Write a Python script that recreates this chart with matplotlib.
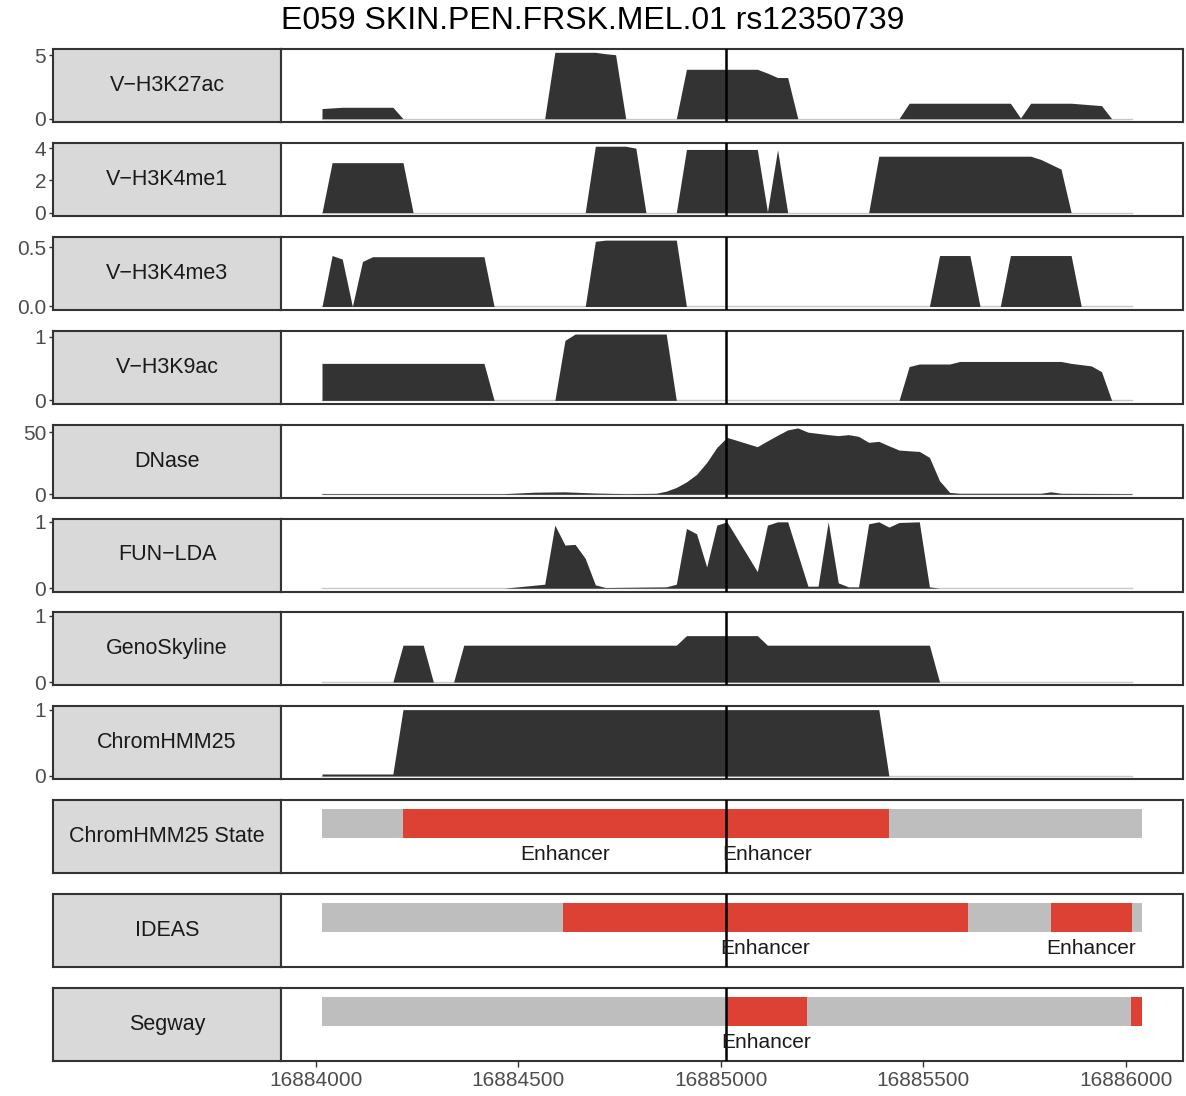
import matplotlib
matplotlib.use("Agg")
import matplotlib.pyplot as plt

plt.rcParams.update({
    "font.family": ["Liberation Sans", "DejaVu Sans"],
    "axes.linewidth": 1.5,
    "axes.edgecolor": "#333333",
})

TITLE = "E059 SKIN.PEN.FRSK.MEL.01 rs12350739"
BASE = 16884000          # positions below are offsets from this
SNP_POS = 16885012
XTICKS = [16884000, 16884500, 16885000, 16885500, 16886000]

# ---- signal tracks: vertices (offset bp, value) ----
H3K27AC_POS = [15, 65, 190, 215, 565, 590, 690, 715, 740, 765, 890, 915, 1090, 1115, 1140, 1165, 1190,
               1440, 1465, 1715, 1740, 1765, 1865, 1940, 1965, 2015]
H3K27AC_VAL = [0.8, 0.9, 0.9, 0, 0, 5.24, 5.24, 5.13, 5.05, 0, 0, 3.9, 3.9, 3.6, 3.25, 3.25, 0,
               0, 1.22, 1.22, 0.05, 1.22, 1.22, 1.03, 0, 0]

H3K4ME1_POS = [15, 40, 215, 240, 665, 690, 765, 790, 815, 890, 915, 1090, 1115, 1140, 1165,
               1365, 1390, 1765, 1790, 1815, 1840, 1865, 2015]
H3K4ME1_VAL = [0, 3.1, 3.1, 0, 0, 4.12, 4.12, 4.0, 0, 0, 3.92, 3.92, 0.05, 3.9, 0,
               0, 3.5, 3.5, 3.3, 3.0, 2.7, 0, 0]

H3K4ME3_POS = [15, 40, 65, 90, 115, 140, 415, 440, 665, 690, 715, 890, 915,
               1515, 1540, 1615, 1640, 1690, 1715, 1865, 1890, 2015]
H3K4ME3_VAL = [0, 0.43, 0.40, 0, 0.38, 0.42, 0.42, 0, 0, 0.55, 0.56, 0.56, 0,
               0, 0.43, 0.43, 0, 0, 0.43, 0.43, 0, 0]

H3K9AC_POS = [15, 415, 440, 590, 615, 640, 865, 890, 1440, 1465, 1490, 1565, 1590, 1840, 1865,
              1915, 1940, 1965, 2015]
H3K9AC_VAL = [0.58, 0.58, 0, 0, 0.94, 1.04, 1.04, 0, 0, 0.53, 0.57, 0.57, 0.61, 0.61, 0.58,
              0.54, 0.45, 0, 0]

DNASE_POS = [15, 465, 540, 615, 690, 765, 840, 865, 890, 915, 940, 965, 990, 1015, 1040, 1065,
             1090, 1115, 1140, 1165, 1190, 1215, 1240, 1265, 1290, 1315, 1340, 1365, 1390, 1415,
             1440, 1465, 1490, 1515, 1540, 1565, 1590, 1790, 1815, 1840, 2015]
DNASE_VAL = [0.5, 0.5, 1.7, 2.0, 1.0, 0.5, 0.8, 2.5, 5.5, 10, 16, 25.6, 37.7, 45.8, 43.3, 40.8,
             38.3, 43, 47.5, 51.8, 53.4, 50, 49, 48, 47.2, 48, 46.6, 41.8, 42.6, 39,
             35.6, 35, 34.5, 29.7, 10.9, 1.5, 0.8, 0.8, 2.0, 0.8, 0.5]

FUNLDA_POS = [15, 465, 565, 590, 615, 640, 665, 690, 715, 865, 890, 915, 940, 965, 990, 1015,
              1090, 1115, 1140, 1165, 1215, 1240, 1265, 1290, 1315, 1340, 1365, 1390, 1415,
              1440, 1490, 1515, 1540, 2015]
FUNLDA_VAL = [0, 0, 0.06, 0.95, 0.65, 0.66, 0.45, 0.05, 0.01, 0.02, 0.06, 0.90, 0.82, 0.32, 0.95, 1.0,
              0.25, 0.95, 1.0, 1.0, 0.03, 0.03, 1.0, 0.08, 0.02, 0.02, 0.97, 1.0, 0.92,
              0.99, 1.0, 0.02, 0, 0]

GENOSKY_POS = [15, 190, 215, 265, 290, 340, 365, 890, 915, 1090, 1115, 1515, 1540, 2015]
GENOSKY_VAL = [0, 0, 0.556, 0.556, 0, 0, 0.556, 0.556, 0.70, 0.70, 0.556, 0.556, 0, 0]

CHMM25_POS = [15, 190, 215, 1390, 1415, 2015]
CHMM25_VAL = [0.03, 0.03, 1.0, 1.0, 0, 0]

# ---- state tracks: segments ----
CHMM_START = [15, 215, 1015, 1215, 1415]
CHMM_END = [215, 1015, 1215, 1415, 2040]
CHMM_STATE = ["Other", "Enhancer", "Enhancer", "Enhancer", "Other"]
CHMM_LABEL = ["", "Enhancer", "Enhancer", "", ""]

IDEAS_START = [15, 610, 1610, 1815, 2015]
IDEAS_END = [610, 1610, 1815, 2015, 2040]
IDEAS_STATE = ["Other", "Enhancer", "Other", "Enhancer", "Other"]
IDEAS_LABEL = ["", "Enhancer", "", "Enhancer", ""]

SEGWAY_START = [15, 1012, 1212, 2012]
SEGWAY_END = [1012, 1212, 2012, 2040]
SEGWAY_STATE = ["Other", "Enhancer", "Other", "Enhancer"]
SEGWAY_LABEL = ["", "Enhancer", "", ""]

SIGNALS = [
    ("V\u2212H3K27ac", H3K27AC_POS, H3K27AC_VAL, [0, 5], ["0", "5"], False),
    ("V\u2212H3K4me1", H3K4ME1_POS, H3K4ME1_VAL, [0, 2, 4], ["0", "2", "4"], False),
    ("V\u2212H3K4me3", H3K4ME3_POS, H3K4ME3_VAL, [0, 0.5], ["0.0", "0.5"], False),
    ("V\u2212H3K9ac", H3K9AC_POS, H3K9AC_VAL, [0, 1], ["0", "1"], False),
    ("DNase", DNASE_POS, DNASE_VAL, [0, 50], ["0", "50"], False),
    ("FUN\u2212LDA", FUNLDA_POS, FUNLDA_VAL, [0, 1], ["0", "1"], True),
    ("GenoSkyline", GENOSKY_POS, GENOSKY_VAL, [0, 1], ["0", "1"], True),
    ("ChromHMM25", CHMM25_POS, CHMM25_VAL, [0, 1], ["0", "1"], True),
]
STATES = [
    ("ChromHMM25 State", CHMM_START, CHMM_END, CHMM_STATE, CHMM_LABEL),
    ("IDEAS", IDEAS_START, IDEAS_END, IDEAS_STATE, IDEAS_LABEL),
    ("Segway", SEGWAY_START, SEGWAY_END, SEGWAY_STATE, SEGWAY_LABEL),
]
STATE_COLORS = {"Enhancer": "#DC4133", "Other": "#BEBEBE"}

W, H = 1186, 1096
fig = plt.figure(figsize=(W / 100, H / 100), dpi=100)


def px_axes(x0, y0, x1, y1):
    return fig.add_axes([x0 / W, 1 - y1 / H, (x1 - x0) / W, (y1 - y0) / H])


lo = min(CHMM_START + IDEAS_START + SEGWAY_START)
hi = max(CHMM_END + IDEAS_END + SEGWAY_END)
pad = 0.05 * (hi - lo)
XLIM = (BASE + lo - pad, BASE + hi + pad)

n_rows = len(SIGNALS) + len(STATES)
for i in range(n_rows):
    top = 49 + 93.9 * i
    sax = px_axes(53, top, 281, top + 73)
    pax = px_axes(281, top, 1183, top + 73)
    sax.set_facecolor("#D9D9D9")
    sax.set_xticks([])
    pax.set_yticks([])
    pax.set_xlim(*XLIM)

    if i < len(SIGNALS):
        name, pos, val, yt, ytl, prob = SIGNALS[i]
        x = [BASE + p for p in pos]
        top_v = max(max(val), 1.0) if prob else max(val)
        ylim = (-0.05 * top_v, 1.05 * top_v)
        pax.plot([x[0], x[-1]], [0, 0], color="#C8C8C8", lw=1.0, zorder=1)
        pax.fill_between(x, 0, val, color="#333333", lw=0, zorder=2)
        for ax in (sax, pax):
            ax.set_ylim(*ylim)
        sax.set_yticks(yt)
        sax.set_yticklabels(ytl)
        sax.tick_params(axis="y", length=3, width=1.0, color="#333333",
                        labelsize=15, labelcolor="#4D4D4D", pad=2)
    else:
        name, starts, ends, states, labels = STATES[i - len(SIGNALS)]
        sax.set_yticks([])
        pax.set_ylim(0, 1)
        for s, e, st, lab in zip(starts, ends, states, labels):
            pax.bar(BASE + s, 0.39, width=e - s, bottom=0.486, align="edge",
                    color=STATE_COLORS[st], lw=0, zorder=2)
            if lab:
                pax.text(BASE + (s + e) / 2, 0.26, lab, ha="center", va="center",
                         fontsize=15, color="#1A1A1A", zorder=4)

    sax.text(0.5, 0.5, name, transform=sax.transAxes, ha="center", va="center",
             fontsize=15.5, color="#1A1A1A")
    pax.axvline(SNP_POS, color="black", lw=1.8, zorder=3)

    if i == n_rows - 1:
        pax.set_xticks(XTICKS)
        pax.set_xticklabels([str(t) for t in XTICKS])
        pax.tick_params(axis="x", length=4, width=1.0, color="#333333",
                        labelsize=15, labelcolor="#4D4D4D", pad=3)
    else:
        pax.set_xticks([])

fig.text(0.5, 1 - 21 / H, TITLE, ha="center", va="center", fontsize=23, color="black")

fig.savefig("out.png", dpi=100)
